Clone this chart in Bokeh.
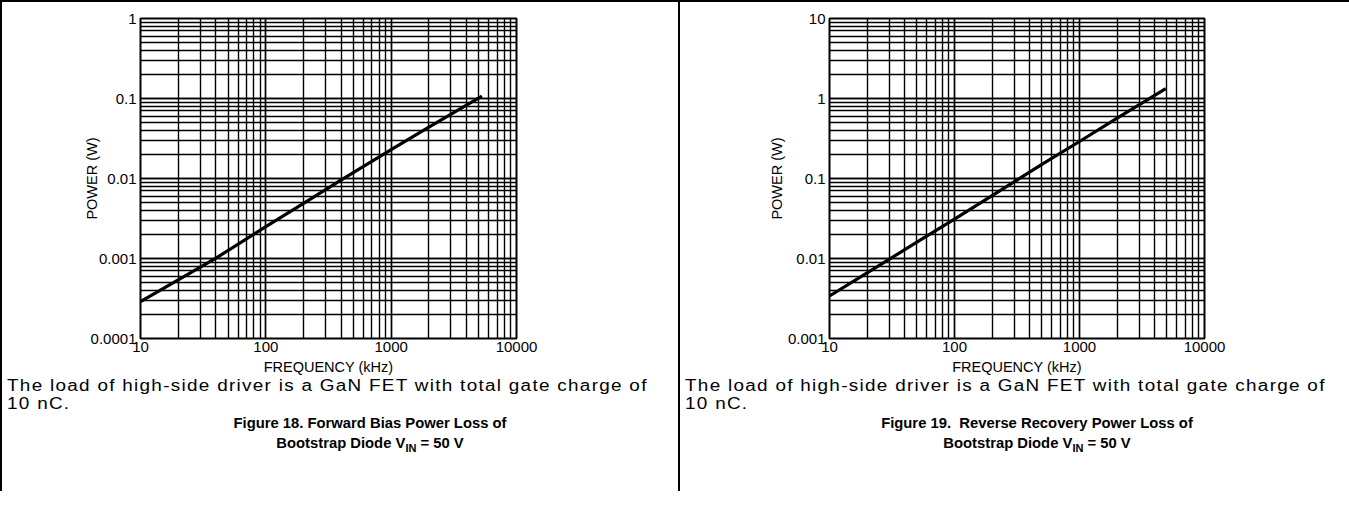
from bokeh.plotting import figure
from bokeh.models import FixedTicker, NumeralTickFormatter, Div
from bokeh.layouts import row, column
from bokeh.embed import file_html
from bokeh.resources import INLINE

# ---- data ----
freq_fwd = [10, 20, 40, 100, 200, 400, 1000, 2000, 5300]
power_fwd = [0.00029, 0.00054, 0.00101, 0.0025, 0.0049, 0.0096, 0.023, 0.044, 0.107]

freq_rr = [10, 20, 50, 100, 200, 500, 1000, 2000, 4900]
power_rr = [0.0034, 0.0066, 0.016, 0.031, 0.061, 0.15, 0.29, 0.57, 1.33]

x_ticks = [10, 100, 1000, 10000]
y_ticks_fwd = [0.0001, 0.001, 0.01, 0.1, 1]
y_ticks_rr = [0.001, 0.01, 0.1, 1, 10]

x_label = "FREQUENCY (kHz)"
y_label = "POWER (W)"
note_line1 = "The load of high-side driver is a GaN FET with total gate charge of"
note_line2 = "10 nC."
title_fwd = "Figure 18. Forward Bias Power Loss of"
title_rr = "Figure 19.&nbsp; Reverse Recovery Power Loss of"
title_line2 = "Bootstrap Diode V"
title_sub = "IN"
title_tail = " = 50 V"

FONT = "Liberation Sans"


def minors(ticks):
    out = []
    for t in ticks[:-1]:
        for m in range(1, 10):
            out.append(t * m)
    return out


def make_panel(x, y, yticks, width, height, mbl, mbr, mbt, mbb, ystand):
    p = figure(width=width, height=height, x_axis_type="log", y_axis_type="log",
               x_range=(x_ticks[0], x_ticks[-1]), y_range=(yticks[0], yticks[-1]),
               output_backend="svg", toolbar_location=None, tools="",
               min_border_left=mbl, min_border_right=mbr,
               min_border_top=mbt, min_border_bottom=mbb,
               x_axis_label=x_label, y_axis_label=y_label)
    p.outline_line_color = "black"
    p.outline_line_width = 2
    p.outline_line_alpha = 1
    p.background_fill_color = "white"
    p.border_fill_color = "white"

    xt = FixedTicker(ticks=x_ticks, minor_ticks=minors(x_ticks))
    yt = FixedTicker(ticks=yticks, minor_ticks=minors(yticks))
    p.xaxis.ticker = xt
    p.yaxis.ticker = yt
    p.xgrid.ticker = xt
    p.ygrid.ticker = yt
    for g in (p.xgrid, p.ygrid):
        g.grid_line_color = "black"
        g.grid_line_width = 1.4
        g.grid_line_alpha = 1
        g.minor_grid_line_color = "black"
        g.minor_grid_line_width = 1.4
        g.minor_grid_line_alpha = 1

    for ax in (p.xaxis, p.yaxis):
        ax.formatter = NumeralTickFormatter(format="0.[0000]")
        ax.axis_line_color = None
        ax.major_tick_line_color = None
        ax.minor_tick_line_color = None
        ax.major_tick_out = 0
        ax.major_tick_in = 0
        ax.minor_tick_out = 0
        ax.minor_tick_in = 0
        ax.major_label_text_font = FONT
        ax.major_label_text_font_size = "15px"
        ax.major_label_text_color = "black"
        ax.axis_label_text_font = FONT
        ax.axis_label_text_font_size = "14.5px"
        ax.axis_label_text_font_style = "normal"
        ax.axis_label_text_color = "black"
    p.xaxis.major_label_standoff = 3
    p.xaxis.axis_label_standoff = 4
    p.yaxis.major_label_standoff = 4
    p.yaxis.axis_label_standoff = ystand

    p.line(x, y, line_width=3.2, color="black")
    return p


def caption(width, title, pad):
    base = "position:absolute;left:0;white-space:nowrap;"
    note_style = (base + "font-size:16px;line-height:18.5px;letter-spacing:1.1px;"
                  "transform:scaleX(1.18);transform-origin:0 0;")
    title_style = (base + f"box-sizing:border-box;width:{width}px;padding-left:{pad}px;"
                   "font-size:14.8px;font-weight:bold;line-height:19px;text-align:center;")
    html = (
        f'<div style="position:relative;width:{width}px;height:110px;'
        f'font-family:\'{FONT}\',Arial,sans-serif;color:#000;">'
        f'<div style="{note_style}top:1px;">{note_line1}</div>'
        f'<div style="{note_style}top:19px;">{note_line2}</div>'
        f'<div style="{title_style}top:38px;">{title}</div>'
        f'<div style="{title_style}top:58px;">{title_line2}'
        f'<span style="font-size:11px;position:relative;top:4px;">{title_sub}</span>{title_tail}</div>'
        f'</div>'
    )
    return Div(text=html, width=width, height=110, styles={"margin-top": "-4px"})


W1, W2 = 666, 660
H = 378

p1 = make_panel(freq_fwd, power_fwd, y_ticks_fwd, W1, H, 138, 152, 16, 42, -12)
p2 = make_panel(freq_rr, power_rr, y_ticks_rr, W2, H, 149, 136, 16, 42, 0)

col1 = column(p1, caption(W1, title_fwd, 60), styles={"border-right": "2px solid black"})
col2 = column(p2, caption(W2, title_rr, 44))
layout = row(col1, col2, styles={"border-top": "2px solid black",
                                 "border-left": "2px solid black",
                                 "border-right": "2px solid black"})

open("out.html", "w").write(file_html(layout, INLINE))
